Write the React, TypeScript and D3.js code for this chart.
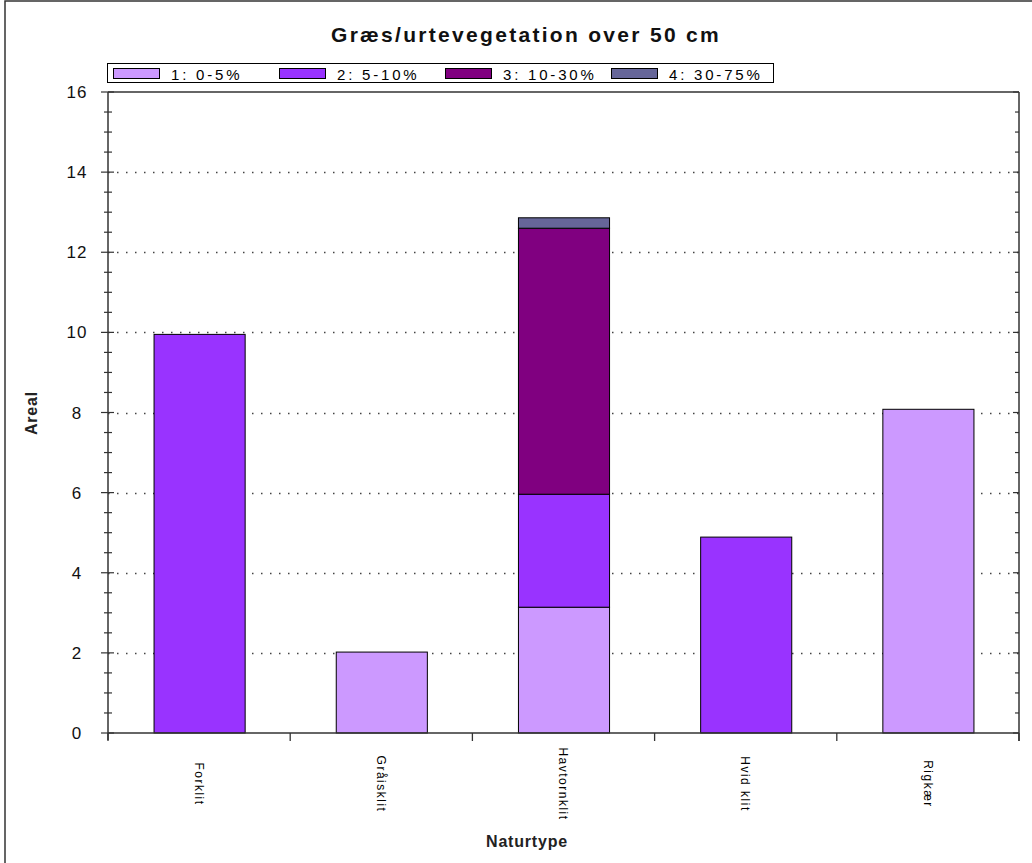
import React from 'react';
import * as d3 from 'd3';

const categories = ["Forklit", "Gråisklit", "Havtornklit", "Hvid klit", "Rigkær"];
const seriesNames = ["1: 0-5%", "2: 5-10%", "3: 10-30%", "4: 30-75%"];
const s1 = [0, 2.02, 3.14, 0, 8.08];
const s2 = [9.95, 0, 2.82, 4.89, 0];
const s3 = [0, 0, 6.64, 0, 0];
const s4 = [0, 0, 0.26, 0, 0];
const colors = ["#CC99FF", "#9933FF", "#800080", "#666699"];
const yMajor = [0, 2, 4, 6, 8, 10, 12, 14, 16];
const yGrid = [2, 4, 6, 8, 10, 12, 14];

const W = 1032, H = 863;
const L = 108, R = 1019, T = 92, B = 733;
const FONT = "'Liberation Sans', Arial, sans-serif";

export default function App() {
  const seriesValues = [s1, s2, s3, s4];
  const rows = categories.map((c, i) => {
    const r: any = { cat: c };
    seriesNames.forEach((s, k) => (r[s] = seriesValues[k][i]));
    return r;
  });
  const stacked = d3.stack().keys(seriesNames)(rows);
  const x = d3.scaleBand().domain(categories).range([L, R]).paddingInner(0.5).paddingOuter(0.25);
  const y = d3.scaleLinear().domain([0, 16]).range([B, T]);
  const minor = d3.range(0, 16.001, 0.5).filter((v) => !yMajor.includes(v));
  const step = x.step();
  const boundaries = d3.range(0, categories.length + 1).map((i) => L + i * step);

  return (
    <svg width={W} height={H} style={{ position: 'absolute', left: 0, top: 0, background: '#fff' }} fontFamily={FONT}>
      <rect x={0} y={0} width={W} height={H} fill="#fff" />
      <rect x={5} y={1} width={W + 20} height={H + 20} fill="none" stroke="#333" strokeWidth={1.5} />
      <text x={526} y={42} textAnchor="middle" fontSize={21} fontWeight="bold" letterSpacing={2.3} fill="#111">
        Græs/urtevegetation over 50 cm
      </text>

      {/* legend */}
      <rect x={107.5} y={63.5} width={666} height={19} fill="#fff" stroke="#000" strokeWidth={1} />
      {seriesNames.map((s, i) => (
        <g key={s}>
          <rect x={113.5 + i * 166} y={68.5} width={46} height={10} fill={colors[i]} stroke="#000" strokeWidth={1} />
          <text x={171 + i * 166} y={79.5} fontSize={15} letterSpacing={2.8} fill="#000">{s}</text>
        </g>
      ))}

      {/* grid */}
      {yGrid.map((v) => (
        <line key={v} x1={L} x2={R} y1={Math.round(y(v)) + 0.5} y2={Math.round(y(v)) + 0.5} stroke="#444" strokeWidth={1.3} strokeDasharray="1.5 7.5" />
      ))}

      {/* bars */}
      {stacked.map((layer, k) =>
        layer.map((d, i) => {
          const h = y(d[0]) - y(d[1]);
          if (h <= 0) return null;
          return (
            <rect key={k + '-' + i} x={(x(categories[i]) as number) + 0.5} y={y(d[1])} width={x.bandwidth()} height={h}
              fill={colors[k]} stroke="#000" strokeWidth={1} />
          );
        })
      )}

      {/* frame */}
      <line x1={L} x2={R} y1={T} y2={T} stroke="#333" strokeWidth={1.3} />
      <line x1={L} x2={R} y1={B} y2={B} stroke="#333" strokeWidth={1.3} />
      <line x1={L} x2={L} y1={T} y2={B + 7} stroke="#333" strokeWidth={1.5} />
      <line x1={R} x2={R} y1={T} y2={B + 8} stroke="#333" strokeWidth={1.5} />

      {/* y ticks */}
      {yMajor.map((v) => (
        <g key={v}>
          <line x1={L - 7} x2={L + 6} y1={y(v)} y2={y(v)} stroke="#333" strokeWidth={1.2} />
          <line x1={R - 6} x2={R} y1={y(v)} y2={y(v)} stroke="#333" strokeWidth={1.2} />
          <text x={77} y={y(v)} dy="0.36em" textAnchor="middle" fontSize={17} letterSpacing={1} fill="#111">{v}</text>
        </g>
      ))}
      {minor.map((v) => (
        <g key={v}>
          <line x1={L - 4} x2={L + 4} y1={y(v)} y2={y(v)} stroke="#333" strokeWidth={1.2} />
          <line x1={R - 4} x2={R} y1={y(v)} y2={y(v)} stroke="#333" strokeWidth={1.2} />
        </g>
      ))}

      {/* x ticks */}
      {boundaries.map((bx, i) => (
        <line key={i} x1={bx} x2={bx} y1={B} y2={B + 8} stroke="#333" strokeWidth={1.3} />
      ))}
      {categories.map((c) => {
        const cx = (x(c) as number) + x.bandwidth() / 2;
        return (
          <text key={c} transform={`translate(${cx},784) rotate(90)`} textAnchor="middle" dy="0.35em" fontSize={12} letterSpacing={1.5} fill="#000">{c}</text>
        );
      })}

      <text transform="translate(37,413) rotate(-90)" textAnchor="middle" fontSize={16} fontWeight="bold" letterSpacing={0.8} fill="#222">Areal</text>
      <text x={527} y={847} textAnchor="middle" fontSize={16} fontWeight="bold" letterSpacing={0.8} fill="#222">Naturtype</text>
    </svg>
  );
}
